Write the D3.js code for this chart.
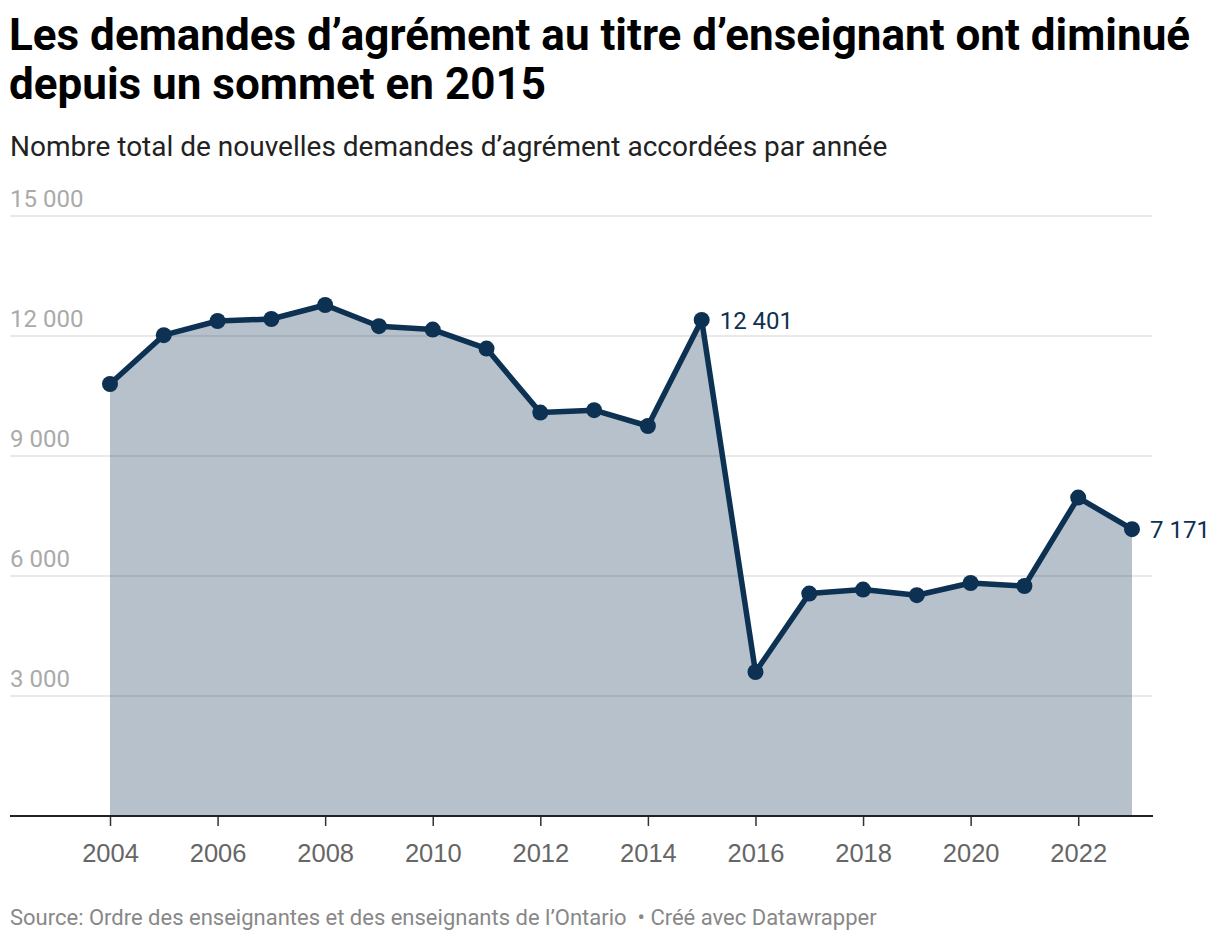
<!DOCTYPE html>
<html lang="fr">
<head>
<meta charset="UTF-8">
<title>Demandes d’agrément</title>
<script src="https://d3js.org/d3.v7.min.js"></script>
<style>
  body { margin: 0; background: #fff; font-family: Roboto, "Noto Sans", sans-serif; }
  .title { font-weight: 700; font-size: 44px; fill: #000; }
  .subtitle { font-size: 28px; fill: #222; }
  .ytick { font-size: 24px; fill: #aaa; }
  .xtick { font-size: 25.5px; fill: #666; }
  .note { font-size: 22px; fill: #888; white-space: pre; }
  .label { font-size: 24px; fill: #0d3152; }
</style>
</head>
<body>
<div id="chart"></div>
<script>
const years = [2004, 2005, 2006, 2007, 2008, 2009, 2010, 2011, 2012, 2013,
               2014, 2015, 2016, 2017, 2018, 2019, 2020, 2021, 2022, 2023];
const values = [10800, 12020, 12375, 12425, 12775, 12245, 12160, 11685, 10085, 10145,
                9750, 12401, 3600, 5560, 5660, 5520, 5825, 5750, 7960, 7171];
const yTicks = [3000, 6000, 9000, 12000, 15000];
const xTicks = [2004, 2006, 2008, 2010, 2012, 2014, 2016, 2018, 2020, 2022];
const labelled = [2015, 2023];

const W = 1220, H = 942;
const fr = d3.formatLocale({ decimal: ",", thousands: "\u00a0", grouping: [3], currency: ["", " €"] });
const fmt = fr.format(",d");

const svg = d3.select("#chart").append("svg")
  .attr("width", W).attr("height", H);

// titles
svg.append("text").attr("class", "title").attr("x", 9).attr("y", 50)
  .text("Les demandes d’agrément au titre d’enseignant ont diminué");
svg.append("text").attr("class", "title").attr("x", 9).attr("y", 99)
  .text("depuis un sommet en 2015");
svg.append("text").attr("class", "subtitle").attr("x", 10).attr("y", 156)
  .text("Nombre total de nouvelles demandes d’agrément accordées par année");

const x = d3.scaleLinear().domain([2004, 2023]).range([110, 1132]);
const y = d3.scaleLinear().domain([0, 15000]).range([816, 216]);

// grid
svg.selectAll(".grid").data(yTicks).enter().append("line")
  .attr("x1", 10).attr("x2", 1152)
  .attr("y1", d => y(d)).attr("y2", d => y(d))
  .attr("stroke", "#e2e2e2").attr("stroke-width", 1.5);
svg.selectAll(".ytick").data(yTicks).enter().append("text")
  .attr("class", "ytick").attr("x", 10).attr("y", d => y(d) - 9)
  .text(d => fmt(d));

const pts = years.map((yr, i) => ({ yr: yr, v: values[i] }));

// area
const area = d3.area().x(d => x(d.yr)).y0(y(0)).y1(d => y(d.v));
svg.append("path").datum(pts).attr("d", area)
  .attr("fill", "#0d3152").attr("fill-opacity", 0.3);

// line
const line = d3.line().x(d => x(d.yr)).y(d => y(d.v));
svg.append("path").datum(pts).attr("d", line)
  .attr("fill", "none").attr("stroke", "#0d3152")
  .attr("stroke-width", 5.5).attr("stroke-linejoin", "round");
svg.selectAll(".dot").data(pts).enter().append("circle")
  .attr("cx", d => x(d.yr)).attr("cy", d => y(d.v)).attr("r", 8)
  .attr("fill", "#0d3152");

// value labels
svg.selectAll(".label").data(pts.filter(d => labelled.includes(d.yr))).enter()
  .append("text").attr("class", "label")
  .attr("x", d => x(d.yr) + 18).attr("y", d => y(d.v) + 9)
  .text(d => fmt(d.v));

// x axis
const xAxis = svg.append("g").attr("transform", `translate(0,${y(0)})`)
  .call(d3.axisBottom(x).tickValues(xTicks).tickFormat(d3.format("d")).tickSize(10).tickPadding(18));
xAxis.select(".domain").remove();
xAxis.selectAll("line").attr("stroke", "#333").attr("stroke-width", 1.5);
xAxis.selectAll("text").attr("class", "xtick").attr("font-family", null).attr("font-size", null).attr("fill", null);
svg.append("line").attr("x1", 10).attr("x2", 1153).attr("y1", y(0)).attr("y2", y(0))
  .attr("stroke", "#222").attr("stroke-width", 2);

// footer
svg.append("text").attr("class", "note").attr("x", 10).attr("y", 925)
  .text("Source: Ordre des enseignantes et des enseignants de l’Ontario  • Créé avec Datawrapper");
</script>
</body>
</html>
